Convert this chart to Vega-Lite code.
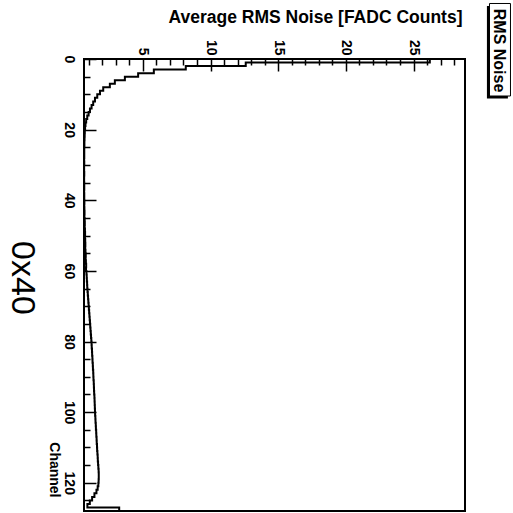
{
  "$schema": "https://vega.github.io/schema/vega-lite/v6.json",
  "autosize": "none",
  "padding": {"left": 84, "top": 59, "right": 48, "bottom": 2},
  "width": 381,
  "height": 452,
  "background": "white",
  "config": {"view": {"stroke": "black", "strokeWidth": 2}, "font": "Liberation Sans"},
  "data": {"values": [
    {"channel": 0, "noise": 26.2}, {"channel": 1, "noise": 12.6}, {"channel": 2, "noise": 8.17}, {"channel": 3, "noise": 5.81},
    {"channel": 4, "noise": 4.65}, {"channel": 5, "noise": 3.67}, {"channel": 6, "noise": 2.93}, {"channel": 7, "noise": 2.56},
    {"channel": 8, "noise": 2.07}, {"channel": 9, "noise": 1.83}, {"channel": 10, "noise": 1.63}, {"channel": 11, "noise": 1.46},
    {"channel": 12, "noise": 1.33}, {"channel": 13, "noise": 1.21}, {"channel": 14, "noise": 1.09}, {"channel": 15, "noise": 0.99},
    {"channel": 16, "noise": 0.89}, {"channel": 17, "noise": 0.81}, {"channel": 18, "noise": 0.76}, {"channel": 19, "noise": 0.73},
    {"channel": 20, "noise": 0.71}, {"channel": 21, "noise": 0.70}, {"channel": 22, "noise": 0.69}, {"channel": 23, "noise": 0.68},
    {"channel": 24, "noise": 0.68}, {"channel": 25, "noise": 0.67}, {"channel": 26, "noise": 0.67}, {"channel": 27, "noise": 0.67},
    {"channel": 28, "noise": 0.66}, {"channel": 29, "noise": 0.67}, {"channel": 30, "noise": 0.66}, {"channel": 31, "noise": 0.66},
    {"channel": 32, "noise": 0.67}, {"channel": 33, "noise": 0.66}, {"channel": 34, "noise": 0.66}, {"channel": 35, "noise": 0.67},
    {"channel": 36, "noise": 0.67}, {"channel": 37, "noise": 0.66}, {"channel": 38, "noise": 0.67}, {"channel": 39, "noise": 0.67},
    {"channel": 40, "noise": 0.68}, {"channel": 41, "noise": 0.67}, {"channel": 42, "noise": 0.68}, {"channel": 43, "noise": 0.69},
    {"channel": 44, "noise": 0.68}, {"channel": 45, "noise": 0.70}, {"channel": 46, "noise": 0.71}, {"channel": 47, "noise": 0.70},
    {"channel": 48, "noise": 0.72}, {"channel": 49, "noise": 0.73}, {"channel": 50, "noise": 0.72}, {"channel": 51, "noise": 0.74},
    {"channel": 52, "noise": 0.75}, {"channel": 53, "noise": 0.74}, {"channel": 54, "noise": 0.76}, {"channel": 55, "noise": 0.78},
    {"channel": 56, "noise": 0.77}, {"channel": 57, "noise": 0.79}, {"channel": 58, "noise": 0.81}, {"channel": 59, "noise": 0.80},
    {"channel": 60, "noise": 0.83}, {"channel": 61, "noise": 0.85}, {"channel": 62, "noise": 0.86}, {"channel": 63, "noise": 0.88},
    {"channel": 64, "noise": 0.89}, {"channel": 65, "noise": 0.91}, {"channel": 66, "noise": 0.93}, {"channel": 67, "noise": 0.95},
    {"channel": 68, "noise": 0.97}, {"channel": 69, "noise": 0.99}, {"channel": 70, "noise": 1.01}, {"channel": 71, "noise": 1.03},
    {"channel": 72, "noise": 1.05}, {"channel": 73, "noise": 1.07}, {"channel": 74, "noise": 1.09}, {"channel": 75, "noise": 1.11},
    {"channel": 76, "noise": 1.13}, {"channel": 77, "noise": 1.15}, {"channel": 78, "noise": 1.17}, {"channel": 79, "noise": 1.19},
    {"channel": 80, "noise": 1.21}, {"channel": 81, "noise": 1.22}, {"channel": 82, "noise": 1.24}, {"channel": 83, "noise": 1.25},
    {"channel": 84, "noise": 1.27}, {"channel": 85, "noise": 1.28}, {"channel": 86, "noise": 1.30}, {"channel": 87, "noise": 1.31},
    {"channel": 88, "noise": 1.33}, {"channel": 89, "noise": 1.34}, {"channel": 90, "noise": 1.35}, {"channel": 91, "noise": 1.37},
    {"channel": 92, "noise": 1.38}, {"channel": 93, "noise": 1.39}, {"channel": 94, "noise": 1.40}, {"channel": 95, "noise": 1.42},
    {"channel": 96, "noise": 1.43}, {"channel": 97, "noise": 1.44}, {"channel": 98, "noise": 1.45}, {"channel": 99, "noise": 1.46},
    {"channel": 100, "noise": 1.47}, {"channel": 101, "noise": 1.49}, {"channel": 102, "noise": 1.50}, {"channel": 103, "noise": 1.52},
    {"channel": 104, "noise": 1.53}, {"channel": 105, "noise": 1.55}, {"channel": 106, "noise": 1.56}, {"channel": 107, "noise": 1.58},
    {"channel": 108, "noise": 1.59}, {"channel": 109, "noise": 1.61}, {"channel": 110, "noise": 1.62}, {"channel": 111, "noise": 1.64},
    {"channel": 112, "noise": 1.66}, {"channel": 113, "noise": 1.67}, {"channel": 114, "noise": 1.69}, {"channel": 115, "noise": 1.71},
    {"channel": 116, "noise": 1.73}, {"channel": 117, "noise": 1.74}, {"channel": 118, "noise": 1.74}, {"channel": 119, "noise": 1.73},
    {"channel": 120, "noise": 1.71}, {"channel": 121, "noise": 1.66}, {"channel": 122, "noise": 1.57}, {"channel": 123, "noise": 1.42},
    {"channel": 124, "noise": 1.25}, {"channel": 125, "noise": 1.08}, {"channel": 126, "noise": 0.90}, {"channel": 127, "noise": 3.25},
    {"channel": 128, "noise": 3.25}
  ]},
  "resolve": {"axis": {"x": "independent", "y": "independent"}},
  "layer": [
    {
      "mark": {"type": "line", "interpolate": "step-before", "color": "black", "strokeWidth": 2, "clip": true},
      "encoding": {
        "x": {
          "field": "noise", "type": "quantitative",
          "scale": {"domain": [0.65, 28.8], "nice": false, "zero": false},
          "axis": {
            "orient": "top",
            "values": [5, 10, 15, 20, 25],
            "domain": false, "grid": false,
            "tickColor": "black", "tickWidth": 1.5, "tickSize": -12,
            "labelAngle": 90, "labelAlign": "right", "labelBaseline": "middle",
            "labelFontSize": 14, "labelFontWeight": "bold", "labelColor": "black", "labelFont": "Liberation Sans",
            "labelPadding": 16, "labelOverlap": false, "labelFlush": false,
            "title": "Average RMS Noise [FADC Counts]",
            "titleFont": "Liberation Sans", "titleFontSize": 17.5, "titleFontWeight": "bold", "titleColor": "black",
            "titleX": 378, "titleY": -42, "titleAlign": "right", "titleBaseline": "middle", "titleAngle": 0
          }
        },
        "y": {
          "field": "channel", "type": "quantitative",
          "scale": {"domain": [0, 128], "nice": false, "zero": false, "reverse": true},
          "axis": {
            "orient": "left",
            "values": [0, 20, 40, 60, 80, 100, 120],
            "domain": false, "grid": false,
            "tickColor": "black", "tickWidth": 1.5, "tickSize": -12,
            "labelAngle": 90, "labelAlign": "center", "labelBaseline": "top",
            "labelFontSize": 14, "labelFontWeight": "bold", "labelColor": "black", "labelFont": "Liberation Sans",
            "labelPadding": 21, "labelOverlap": false, "labelBound": false, "labelFlush": false,
            "title": "Channel",
            "titleFont": "Liberation Sans", "titleFontSize": 14, "titleFontWeight": "bold", "titleColor": "black",
            "titleX": -31, "titleY": 438, "titleAlign": "right", "titleBaseline": "middle", "titleAngle": 90
          }
        },
        "order": {"field": "channel", "type": "quantitative"}
      }
    },
    {
      "mark": {"type": "point", "opacity": 0},
      "encoding": {
        "x": {
          "field": "noise", "type": "quantitative",
          "axis": {
            "orient": "top",
            "values": [1,2,3,4,6,7,8,9,11,12,13,14,16,17,18,19,21,22,23,24,26,27,28],
            "domain": false, "grid": false, "labels": false, "title": null,
            "tickColor": "black", "tickWidth": 1.5, "tickSize": -6
          }
        },
        "y": {
          "field": "channel", "type": "quantitative",
          "axis": {
            "orient": "left",
            "values": [5,10,15,25,30,35,45,50,55,65,70,75,85,90,95,105,110,115,125],
            "domain": false, "grid": false, "labels": false, "title": null,
            "tickColor": "black", "tickWidth": 1.5, "tickSize": -6
          }
        }
      }
    },
    {
      "data": {"values": [{"label": "RMS Noise"}]},
      "mark": {"type": "rect", "color": "black", "clip": false},
      "encoding": {
        "x": {"datum": 30.42, "type": "quantitative", "axis": null}, "x2": {"datum": 31.97},
        "y": {"datum": -15.01, "type": "quantitative", "axis": null}, "y2": {"datum": 11.19}
      }
    },
    {
      "data": {"values": [{"label": "RMS Noise"}]},
      "mark": {"type": "rect", "fill": "white", "stroke": "black", "strokeWidth": 1, "clip": false},
      "encoding": {
        "x": {"datum": 30.61, "type": "quantitative", "axis": null}, "x2": {"datum": 32.16},
        "y": {"datum": -15.72, "type": "quantitative", "axis": null}, "y2": {"datum": 10.48}
      }
    },
    {
      "data": {"values": [{"label": "RMS Noise"}]},
      "mark": {"type": "text", "angle": 90, "align": "center", "baseline": "middle", "font": "Liberation Sans", "fontSize": 16, "fontWeight": "bold", "color": "black", "clip": false},
      "encoding": {
        "x": {"datum": 31.33, "type": "quantitative", "axis": null},
        "y": {"datum": -2.4, "type": "quantitative", "axis": null},
        "text": {"field": "label"}
      }
    },
    {
      "data": {"values": [{"label": "0x40"}]},
      "mark": {"type": "text", "angle": 90, "align": "center", "baseline": "middle", "font": "Liberation Sans", "fontSize": 34, "fontWeight": "normal", "color": "black", "clip": false},
      "encoding": {
        "x": {"datum": -3.93, "type": "quantitative", "axis": null},
        "y": {"datum": 62.0, "type": "quantitative", "axis": null},
        "text": {"field": "label"}
      }
    }
  ]
}
